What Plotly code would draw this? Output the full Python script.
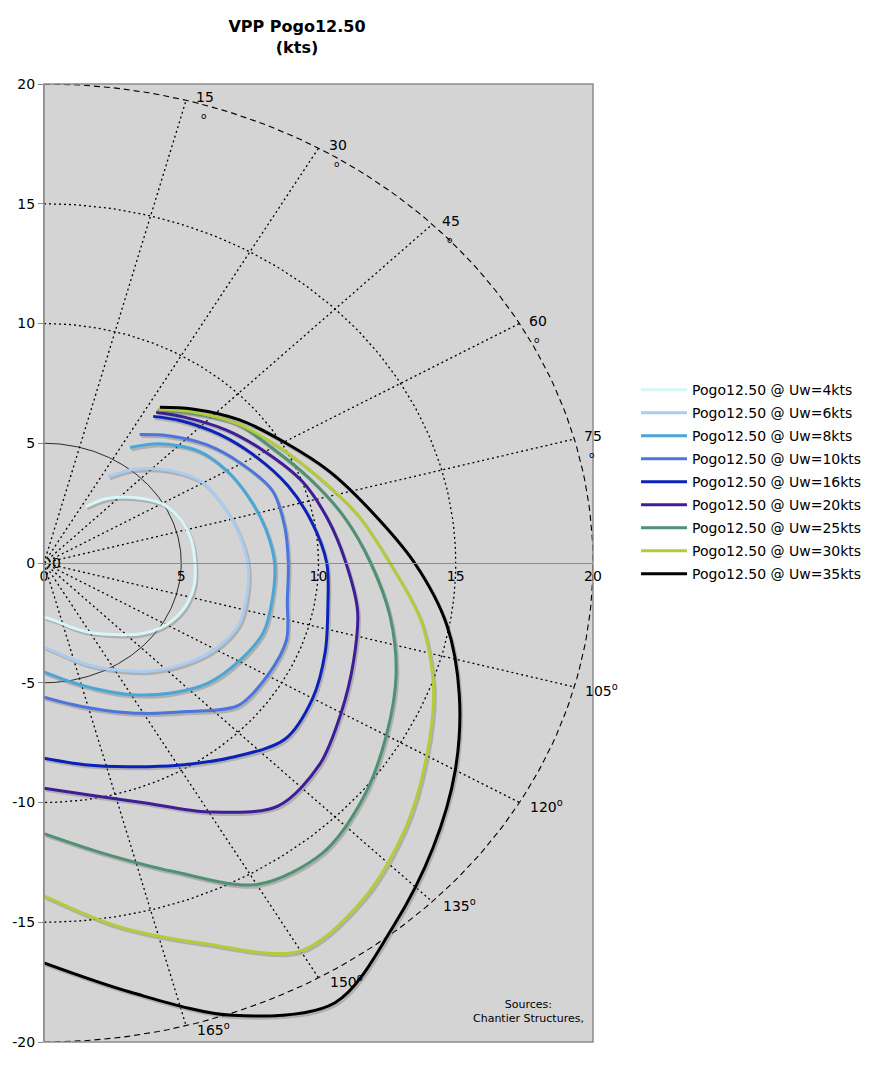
import numpy as np
import plotly.graph_objects as go

# true wind angle (deg) at which each polar was read
twa = [33, 40, 50, 60, 70, 80, 90, 100, 110, 120, 130, 140, 150, 160, 170, 180]

# boat speed (kts) for each true wind speed
bs_4 = [2.8, 3.5, 4.25, 4.95, 5.3, 5.45, 5.5, 5.55, 5.45, 5.15, 4.6, 3.9, 3.35, 2.85, 2.45, 2.25]
bs_6 = [4.3, 5.1, 6.0, 6.7, 6.95, 7.2, 7.42, 7.52, 7.55, 7.2, 6.6, 5.9, 5.15, 4.5, 3.9, 3.5]
bs_8 = [5.75, 6.5, 7.3, 7.7, 7.95, 8.2, 8.4, 8.45, 8.5, 8.2, 7.8, 7.1, 6.35, 5.6, 5.0, 4.55]
bs_10 = [6.4, 6.95, 7.7, 8.3, 8.85, 8.9, 8.9, 9.0, 9.4, 9.4, 9.25, 8.1, 7.25, 6.55, 6.0, 5.6]
bs_16 = [7.3, 7.75, 8.35, 8.9, 9.45, 9.9, 10.3, 10.5, 10.9, 11.3, 11.45, 10.6, 9.75, 9.05, 8.55, 8.15]
bs_20 = [7.5, 7.95, 8.65, 9.3, 10.0, 10.5, 11.0, 11.6, 12.0, 12.5, 13.1, 13.25, 12.0, 10.65, 9.85, 9.4]
bs_25 = [7.6, 8.2, 9.1, 9.6, 10.3, 11.1, 11.9, 12.8, 13.65, 14.4, 15.2, 15.8, 15.5, 13.7, 12.3, 11.3]
bs_30 = [7.65, 8.25, 9.1, 9.8, 10.6, 11.6, 12.6, 13.95, 15.1, 16.1, 17.2, 18.2, 18.7, 16.9, 15.4, 13.9]
bs_35 = [7.75, 8.4, 9.3, 10.1, 11.1, 12.15, 13.5, 14.9, 16.1, 17.3, 18.5, 19.8, 21.2, 20.1, 18.2, 16.7]

wind_speeds = [4, 6, 8, 10, 16, 20, 25, 30, 35]
boat_speeds = [bs_4, bs_6, bs_8, bs_10, bs_16, bs_20, bs_25, bs_30, bs_35]

# axes ticks
x_ticks = [0, 5, 10, 15, 20]
y_ticks = [-20, -15, -10, -5, 0, 5, 10, 15, 20]
y_tick_text = ["-20", "-15", "-10", "-5", "0", "5", "10", "15", "20"]

# polar grid
grid_radii = [5, 10, 15, 20]
spoke_angles = [15, 30, 45, 60, 75, 105, 120, 135, 150, 165]
upper_labels = [15, 30, 45, 60, 75]
lower_labels = [105, 120, 135, 150, 165]

colors = {
    4: "#d6f7f7",
    6: "#a9ccef",
    8: "#4aa6d6",
    10: "#4b74dc",
    16: "#0b22b8",
    20: "#3e1e98",
    25: "#4f9172",
    30: "#b4cb3a",
    35: "#000000",
}

FONT = "DejaVu Sans"


def to_xy(angle_deg, radius):
    a = np.radians(np.asarray(angle_deg, dtype=float))
    r = np.asarray(radius, dtype=float)
    return r * np.sin(a), r * np.cos(a)


fig = go.Figure()

# grid circles (half circles, starboard side only)
arc = np.linspace(0, 180, 181)
for r in grid_radii:
    cx, cy = to_xy(arc, np.full_like(arc, r))
    if r == 5:
        line = dict(color="#000000", width=0.8)
    elif r == 20:
        line = dict(color="#000000", width=1.1, dash="6px,4px")
    else:
        line = dict(color="#000000", width=1.3, dash="2px,3px")
    fig.add_trace(
        go.Scatter(x=cx, y=cy, mode="lines", line=line,
                   hoverinfo="skip", showlegend=False)
    )

# spokes from the origin
sx, sy = [], []
for a in spoke_angles:
    ex, ey = to_xy(a, grid_radii[-1])
    sx += [0, ex, None]
    sy += [0, ey, None]
fig.add_trace(
    go.Scatter(x=sx, y=sy, mode="lines",
               line=dict(color="#000000", width=1.3, dash="2px,3px"),
               hoverinfo="skip", showlegend=False)
)

# drop shadows under the polars
for ws, bs in zip(wind_speeds, boat_speeds):
    px_, py_ = to_xy(twa, bs)
    fig.add_trace(
        go.Scatter(x=px_ + 0.06, y=py_ - 0.09, mode="lines",
                   line=dict(color="rgba(120,120,120,0.4)", width=3,
                             shape="spline", smoothing=0.9),
                   hoverinfo="skip", showlegend=False)
    )

# the polars
for ws, bs in zip(wind_speeds, boat_speeds):
    px_, py_ = to_xy(twa, bs)
    fig.add_trace(
        go.Scatter(
            x=px_, y=py_, mode="lines",
            name="Pogo12.50 @ Uw=%dkts" % ws,
            legendgroup=str(ws),
            line=dict(color=colors[ws], width=3, shape="spline", smoothing=0.9),
            customdata=np.column_stack([twa, bs]),
            hovertemplate="TWA %{customdata[0]}°<br>%{customdata[1]} kts<extra></extra>",
        )
    )

# angle labels
annotations = []
for a in upper_labels:
    ex, ey = to_xy(a, grid_radii[-1])
    annotations.append(dict(x=ex, y=ey, text=str(a), showarrow=False,
                            xanchor="left", yanchor="middle", xshift=8, yshift=3,
                            font=dict(family=FONT, size=14, color="#000")))
    annotations.append(dict(x=ex, y=ey, text="o", showarrow=False,
                            xanchor="center", yanchor="middle", xshift=18, yshift=-16,
                            font=dict(family=FONT, size=9, color="#000")))
for a in lower_labels:
    ex, ey = to_xy(a, grid_radii[-1])
    annotations.append(dict(x=ex, y=ey, text="%d<sup>o</sup>" % a, showarrow=False,
                            xanchor="left", yanchor="middle", xshift=9, yshift=-3,
                            font=dict(family=FONT, size=14, color="#000")))
annotations.append(dict(x=0, y=0, text="0", showarrow=False, xanchor="left",
                        yanchor="middle", xshift=6, yshift=0,
                        font=dict(family=FONT, size=14, color="#000")))
annotations.append(dict(x=0.988, y=0.016, xref="paper", yref="paper",
                        text="Sources:<br>Chantier Structures,", showarrow=False,
                        xanchor="right", yanchor="bottom", align="center",
                        font=dict(family=FONT, size=11, color="#000")))

# the page body adds an 8px offset, so the figure is sized to fit 878x1080
fig.update_layout(
    width=870,
    height=1072,
    margin=dict(l=36, r=284, t=76, b=38),
    paper_bgcolor="#ffffff",
    plot_bgcolor="#d4d4d4",
    font=dict(family=FONT, size=14, color="#000"),
    title=dict(
        text="<b>VPP Pogo12.50<br>(kts)</b>",
        x=289 / 870, xref="container", xanchor="center",
        y=1 - 24 / 1072, yref="container", yanchor="top",
        font=dict(family=FONT, size=16, color="#000"),
    ),
    xaxis=dict(
        range=[0, 20], tickvals=x_ticks, showgrid=False,
        zeroline=False, showline=True, linecolor="#8c8c8c", linewidth=1,
        anchor="free", position=0.5, ticks="", fixedrange=True, automargin=False,
        tickfont=dict(family=FONT, size=14, color="#000"),
    ),
    yaxis=dict(
        range=[-20, 20], tickvals=y_ticks, ticktext=y_tick_text,
        showgrid=False, zeroline=False, showline=True, linecolor="#8c8c8c",
        linewidth=1, ticks="outside", ticklen=5, tickcolor="#8c8c8c",
        fixedrange=True, automargin=False,
        tickfont=dict(family=FONT, size=14, color="#000"),
    ),
    legend=dict(
        x=1.0764, y=0.697, xanchor="left", yanchor="top",
        itemwidth=46, tracegroupgap=1.8, bgcolor="rgba(0,0,0,0)",
        font=dict(family=FONT, size=14, color="#000"),
    ),
    shapes=[dict(type="rect", xref="paper", yref="paper", x0=0, x1=1, y0=0, y1=1,
                 line=dict(color="#8c8c8c", width=1.5), layer="above")],
    annotations=annotations,
)

fig.write_html("out.html")
